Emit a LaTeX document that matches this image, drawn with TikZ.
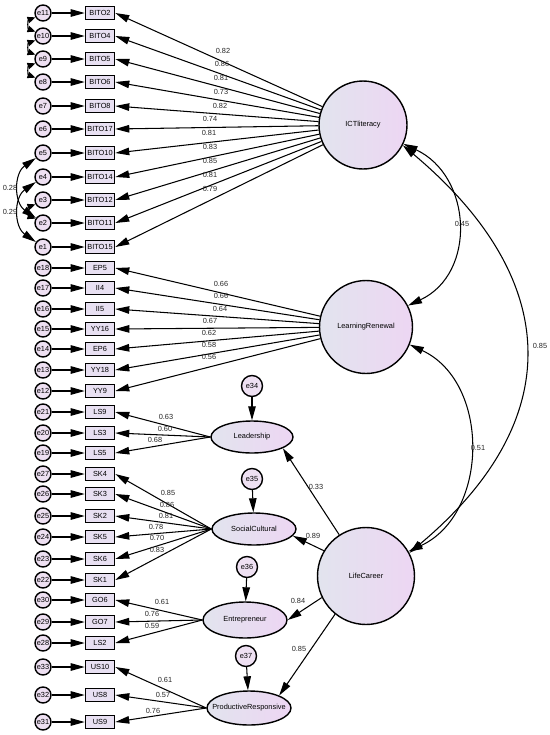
\documentclass[tikz,border=0pt]{standalone}
\usepackage{fontspec}
\setmainfont{Liberation Sans}
\usetikzlibrary{arrows.meta,shapes.geometric}

\definecolor{boxfill}{RGB}{232,224,242}
\definecolor{errfill}{RGB}{238,224,242}
\definecolor{latleft}{RGB}{226,228,238}
\definecolor{latright}{RGB}{237,214,243}

\tikzset{
  tiny/.style={font=\fontsize{4.2}{5}\selectfont},
  obs/.style={draw, line width=0.9pt, fill=boxfill, minimum width=0.58cm, minimum height=0.26cm, inner sep=0pt, tiny},
  err/.style={draw, circle, line width=0.8pt, fill=errfill, minimum size=0.32cm, inner sep=0pt, tiny},
  lat/.style={draw, circle, line width=0.8pt, left color=latleft, right color=latright, inner sep=0pt, tiny},
  fac/.style={draw, ellipse, line width=0.8pt, left color=latleft, right color=latright, inner sep=0pt, tiny},
  arr/.style={-{Triangle[length=0.28cm,width=0.15cm]}, line width=0.6pt},
  cov/.style={{Triangle[length=0.28cm,width=0.15cm]}-{Triangle[length=0.28cm,width=0.15cm]}, line width=0.6pt},
  covs/.style={{Triangle[length=0.16cm,width=0.13cm]}-{Triangle[length=0.16cm,width=0.13cm]}, line width=0.6pt},
  num/.style={tiny, inner sep=0.5pt, text=black!85}
}

\begin{document}
\begin{tikzpicture}[x=0.02cm, y=-0.02cm]
\useasboundingbox (0,0) rectangle (550,735);

% Latent factors
\node[lat, minimum size=1.76cm] (ict) at (363,125) {ICTliteracy};
\node[lat, minimum size=1.86cm] (lr) at (366,327) {LearningRenewal};
\node[lat, minimum size=1.94cm] (lc) at (366,576) {LifeCareer};

% First order factors of LifeCareer
\node[fac, minimum width=1.64cm, minimum height=0.64cm] (lead) at (252,437) {Leadership};
\node[fac, minimum width=1.68cm, minimum height=0.64cm] (soc) at (254,529) {SocialCultural};
\node[fac, minimum width=1.68cm, minimum height=0.72cm] (ent) at (245,620) {Entrepreneur};
\node[fac, minimum width=1.68cm, minimum height=0.68cm] (pro) at (249,708) {\makebox[0pt]{ProductiveResponsive}};

% Disturbances
\node[err, minimum size=0.42cm] (e34) at (252,386) {e34};
\node[err, minimum size=0.42cm] (e35) at (252,479) {e35};
\node[err, minimum size=0.42cm] (e36) at (247,567) {e36};
\node[err, minimum size=0.42cm] (e37) at (246,656) {e37};
\draw[arr] (e34) -- (lead);
\draw[arr] (e35) -- (soc);
\draw[arr] (e36) -- (ent);
\draw[arr] (e37) -- (pro);

% Indicators, errors and loadings
\foreach \ind/\er/\yy/\src/\lx/\ly/\ld in {
  BITO2/e11/13/ict/223/51/0.82, BITO4/e10/36/ict/222/64/0.86,
  BITO5/e9/59/ict/221/78/0.81, BITO6/e8/82/ict/221/92/0.73,
  BITO8/e7/106/ict/220/106/0.82, BITO17/e6/129/ict/210/119/0.74,
  BITO10/e5/153/ict/209/133/0.81, BITO14/e4/177/ict/210/147/0.83,
  BITO12/e3/200/ict/210/161/0.85, BITO11/e2/223/ict/210/175/0.81,
  BITO15/e1/247/ict/210/189/0.79,
  EP5/e18/268/lr/221/284/0.66, II4/e17/288/lr/221/296/0.66,
  II5/e16/309/lr/220/309/0.64, YY16/e15/329/lr/210/321/0.67,
  EP6/e14/349/lr/209/333/0.62, YY18/e13/370/lr/209/345/0.58,
  YY9/e12/391/lr/209/357/0.56,
  LS9/e21/412/lead.west/166/417/0.63, LS3/e20/433/lead.west/165/429/0.60,
  LS5/e19/453/lead.west/155/440/0.68,
  SK4/e27/474/soc.west/168/493/0.85, SK3/e26/494/soc.west/167/505/0.86,
  SK2/e25/516/soc.west/166/516/0.81, SK5/e24/537/soc.west/156/527/0.78,
  SK6/e23/559/soc.west/157/538/0.70, SK1/e22/580/soc.west/157/550/0.83,
  GO6/e30/600/ent.west/162/602/0.61, GO7/e29/622/ent.west/152/614/0.76,
  LS2/e28/643/ent.west/152/626/0.59,
  US10/e33/667/pro.west/165/680/0.61, US8/e32/695/pro.west/163/695/0.57,
  US9/e31/722/pro.west/153/711/0.76}
{
  \node[err] (\er) at (43,\yy) {\er};
  \node[obs] (\ind) at (100,\yy) {\ind};
  \draw[arr] (\er) -- (\ind);
  \draw[arr] (\src) -- (\ind.east);
  \node[num] (n\ind) at (\lx,\ly) {\ld};
}

% Second order paths
\draw[arr] (lc.123) -- (lead.-20);
\draw[arr] (lc.149) -- (soc.-10);
\draw[arr] (lc.206) -- (ent.east);
\draw[arr] (lc.231) -- (pro.north east);
\node[num] (nlead) at (316,487) {0.33};
\node[num] (nsoc) at (313,536) {0.89};
\node[num] (nent) at (298,601) {0.84};
\node[num] (npro) at (299,649) {0.85};

% Factor covariances
\draw[cov] (ict.-25) to[out=-25, in=25, looseness=1.2] (lr.27);
\draw[cov] (lr.-22) to[out=-25, in=25, looseness=1.1] (lc.30);
\draw[cov] (ict.-27) to[out=-40, in=40, looseness=1.3] (lc.28);
\node[num] (nc1) at (462,224) {0.45};
\node[num] (nc2) at (478,448) {0.51};
\node[num] (nc3) at (540,346) {0.85};

% Error covariances
\draw[covs] (e11.210) to[out=200, in=160, looseness=1.5] (e10.150);
\draw[covs] (e10.210) to[out=200, in=160, looseness=1.5] (e9.150);
\draw[covs] (e9.210) to[out=200, in=160, looseness=1.5] (e8.150);
\draw[covs] (e3.210) to[out=200, in=160, looseness=1.5] (e2.150);
\draw[cov] (e5.215) to[out=215, in=145, looseness=1.15] (e2.145);
\draw[cov] (e4.215) to[out=215, in=145, looseness=1.15] (e1.145);
\node[num] (ne1) at (10,188) {0.28};
\node[num] (ne2) at (10,212) {0.29};
\end{tikzpicture}
\end{document}
